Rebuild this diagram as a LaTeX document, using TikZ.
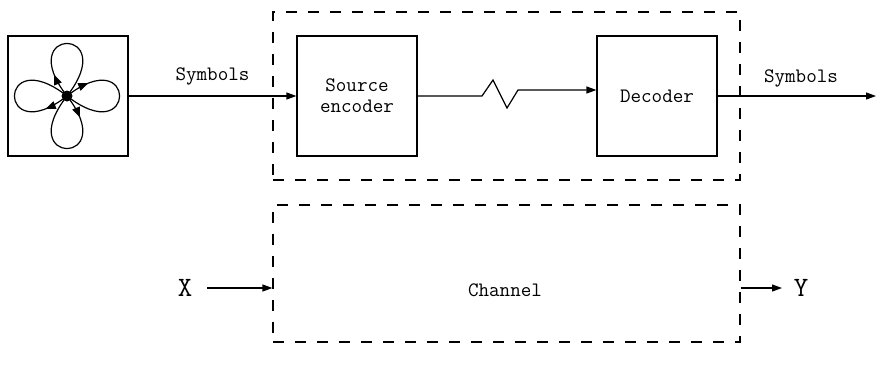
\documentclass[tikz,border=0pt]{standalone}
\usepackage{fontspec}
\usetikzlibrary{arrows.meta,decorations.markings,calc}
\begin{document}
\begin{tikzpicture}[x=1pt,y=-1pt,
  line width=1.2pt,
  tip/.style={-{Triangle[length=10pt,width=7pt]}},
  blockbox/.style={draw,minimum width=120pt,minimum height=120pt,inner sep=0pt,
    font=\ttfamily\fontsize{20.5}{21}\selectfont,align=center},
  dashbox/.style={draw,dash pattern=on 11pt off 11pt,inner sep=0pt},
  lbl/.style={font=\ttfamily\fontsize{20.5}{21}\selectfont,inner sep=0pt},
  biglbl/.style={font=\ttfamily\fontsize{28}{30}\selectfont,inner sep=0pt},
  petal/.style={line width=1.2pt,postaction={decorate},
    decoration={markings,mark=at position 0.19 with {\arrow{Triangle[length=10pt,width=8pt]}}}}
]
\useasboundingbox (0,0) rectangle (877,372);

% dashed frames
\node[dashbox,minimum width=467pt,minimum height=168pt] (frame) at (506.5,96) {};
\node[dashbox,minimum width=467pt,minimum height=137pt] (chan) at (506.5,273.5) {};

% blocks
\node[blockbox] (src) at (68,96) {};
\node[blockbox] (enc) at (357,96) {Source\\encoder};
\node[blockbox] (dec) at (657,96) {Decoder};

% flower
\coordinate (c) at (67,96);
\foreach \a in {-90,0,90,180}{
  \draw[petal] (c) .. controls +(\a-38:89) and +(\a+38:89) .. (c);
}
\fill (c) circle (5.5pt);

% connectors
\draw[tip] (src.east) -- (enc.west) node[lbl,midway,above=10pt] (s1) {Symbols};
\coordinate (z1) at (482,96);
\coordinate (z2) at (493,80);
\coordinate (z3) at (507,108);
\coordinate (z4) at (518,90);
\draw[tip] (enc.east) -- (z1) -- (z2) -- (z3) -- (z4) -- (z4 -| dec.west);
\coordinate (out) at (876,96);
\draw[tip] (dec.east) -- (out);
\node[lbl] (s2) at (801,78) {Symbols};

% channel
\node[lbl] (chl) at (505,290) {Channel};
\node[biglbl] (X) at (185,288) {X};
\node[biglbl] (Y) at (801,288) {Y};
\draw[tip] (207,288) coordinate (xs) -- (xs -| chan.west);
\coordinate (ye) at (782,288);
\draw[tip] (ye -| chan.east) -- (ye);
\end{tikzpicture}
\end{document}
